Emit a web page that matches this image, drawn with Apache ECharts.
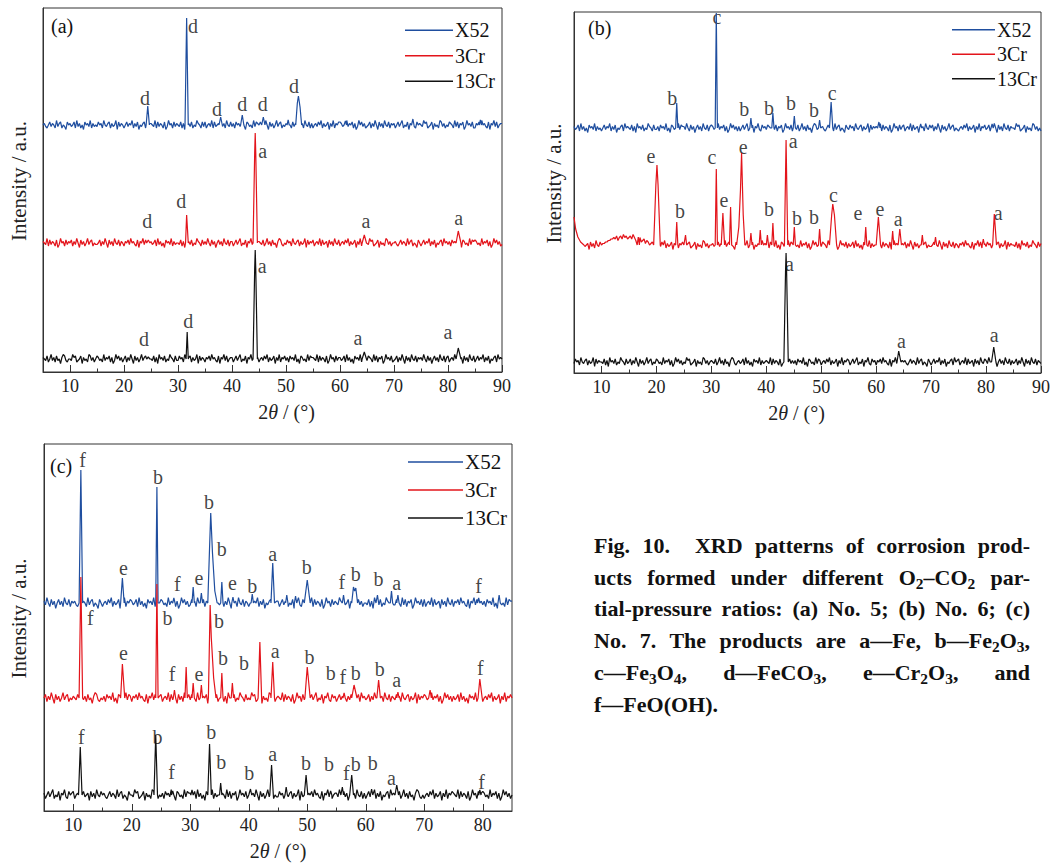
<!DOCTYPE html>
<html>
<head>
<meta charset="utf-8">
<script src="https://cdn.jsdelivr.net/npm/echarts@6/dist/echarts.min.js"></script>
<style>
body { margin: 0; background: #fff; }
#chart { position: absolute; left: 0; top: 0; width: 1055px; height: 865px; }
#caption { position: absolute; left: 594px; top: 530px; width: 436px;
  font: bold 22px/31.7px "Liberation Serif", "Times New Roman", serif; color: #111; }
#caption div { text-align: justify; text-align-last: justify; }
#caption div.last { text-align-last: left; }
#caption sub { font-size: 70%; line-height: 0; vertical-align: -0.25em; }
</style>
</head>
<body>
<div id="chart"></div>
<div id="caption">
  <div>Fig. 10. &nbsp;XRD patterns of corrosion prod-</div>
  <div>ucts formed under different O<sub>2</sub>–CO<sub>2</sub> par-</div>
  <div>tial-pressure ratios: (a) No. 5; (b) No. 6; (c)</div>
  <div>No. 7. The products are a—Fe, b—Fe<sub>2</sub>O<sub>3</sub>,</div>
  <div>c—Fe<sub>3</sub>O<sub>4</sub>, d—FeCO<sub>3</sub>, e—Cr<sub>2</sub>O<sub>3</sub>, and</div>
  <div class="last">f—FeO(OH).</div>
</div>
<script>
// series names and tick labels
var seriesNames = ['X52', '3Cr', '13Cr'];
var seriesColors = ['#1f4e9f', '#e3141b', '#111111'];
var majorTicksAB = [10, 20, 30, 40, 50, 60, 70, 80, 90];
var minorTicksAB = [15, 25, 35, 45, 55, 65, 75, 85];
var majorTicksC = [10, 20, 30, 40, 50, 60, 70, 80];
var minorTicksC = [15, 25, 35, 45, 55, 65, 75];
var noiseStep = 0.25; // 2theta step of the baseline strings

// baseline noise, one char per 0.25 deg starting at 5 deg (base 36, 4 = baseline)
var noiseA_X52 = "45324635427356243164 53462735241645372534 36452743562534716354 24635472536143562745 54372635426137452635 43625174536243754263 62453726345163527436 35264537241653427365 46253741635247356243 53742635146352743625 24536472534615372546 65342735462513746352 34625374163527436254 52463572436154732645 43756234615342763524 36542736254613745362 25463745326154736245 54362473526341576324";
var noiseA_3Cr = "54372635426137452635 46253741635247356243 34625374163527436254 25463745326154736245 53462735241645372534 43625174536243754263 53742635146352743625 52463572436154732645 54362473526341576324 36452743562534716354 62453726345163527436 24536472534615372546 43756234615342763524 45324635427356243164 24635472536143562745 35264537241653427365 65342735462513746352 36542736254613745362";
var noiseA_13Cr = "54362473526341576324 43756234615342763524 65342735462513746352 46253741635247356243 43625174536243754263 36452743562534716354 25463745326154736245 52463572436154732645 24536472534615372546 35264537241653427365 54372635426137452635 53462735241645372534 36542736254613745362 34625374163527436254 53742635146352743625 62453726345163527436 24635472536143562745 45324635427356243164";
var noiseB_X52 = "53462735241645372534 24635472536143562745 43625174536243754263 35264537241653427365 53742635146352743625 65342735462513746352 52463572436154732645 36542736254613745362 54362473526341576324 45324635427356243164 36452743562534716354 54372635426137452635 62453726345163527436 46253741635247356243 24536472534615372546 34625374163527436254 43756234615342763524 25463745326154736245";
var noiseB_3Cr = "62453726345163527436 45566778898a79a8b9a8 9a8b97a8967857645645 24536472534615372546 43756234615342763524 45324635427356243164 24635472536143562745 35264537241653427365 65342735462513746352 36542736254613745362 53462735241645372534 54372635426137452635 46253741635247356243 34625374163527436254 25463745326154736245 36452743562534716354 43625174536243754263 53742635146352743625";
var noiseB_13Cr = "36452743562534716354 43625174536243754263 46253741635247356243 65342735462513746352 43756234615342763524 54362473526341576324 53462735241645372534 54372635426137452635 35264537241653427365 24536472534615372546 52463572436154732645 25463745326154736245 45324635427356243164 24635472536143562745 62453726345163527436 53742635146352743625 34625374163527436254 36542736254613745362";
var noiseC_X52 = "53742635146352743625 45324635427356243164 24536472534615372546 53462735241645372534 65342735462513746352 36452743562534716354 34625374163527436254 24635472536143562745 52463572436154732645 54372635426137452635 43756234615342763524 43625174536243754263 36542736254613745362 62453726345163527436 25463745326154736245 35264537241653427365 54362473526341576324 46253741635247356243";
var noiseC_3Cr = "46253741635247356243 54362473526341576324 35264537241653427365 25463745326154736245 62453726345163527436 36542736254613745362 43625174536243754263 43756234615342763524 54372635426137452635 52463572436154732645 24635472536143562745 34625374163527436254 36452743562534716354 65342735462513746352 53462735241645372534 24536472534615372546 45324635427356243164 53742635146352743625";
var noiseC_13Cr = "52463572436154732645 62453726345163527436 45324635427356243164 43756234615342763524 35264537241653427365 53462735241645372534 36542736254613745362 46253741635247356243 36452743562534716354 25463745326154736245 53742635146352743625 24635472536143562745 54362473526341576324 24536472534615372546 54372635426137452635 65342735462513746352 43625174536243754263 34625374163527436254";

// peaks: flat [2theta, intensity, 2theta, intensity, ...] above the baseline
var peaksA_X52 = [
  [24.1,0, 24.4,19, 24.7,0], [31.3,0, 31.6,107, 31.9,0], [37.6,0, 37.9,8, 38.2,0],
  [41.6,0, 41.9,10, 42.2,0], [45.5,0, 45.8,8, 46.1,0], [50.2,0, 50.4,5, 50.6,0],
  [51.8,0, 52.1,22, 52.3,29, 52.6,18, 52.9,0], [60.8,0, 61.0,4, 61.2,0],
  [73.3,0, 73.5,6, 73.7,0], [85.8,0, 86.0,5, 86.2,0]
];
var peaksA_3Cr = [
  [24.2,0, 24.5,3, 24.8,0], [31.4,0, 31.6,28, 31.9,0], [43.9,0, 44.2,90, 44.3,110, 44.4,90, 44.7,0],
  [64.1,0, 64.5,8, 64.9,0], [81.5,0, 81.9,12, 82.4,0]
];
var peaksA_13Cr = [
  [24.2,0, 24.5,2, 24.8,0], [31.5,0, 31.7,27, 31.9,0], [43.9,0, 44.2,90, 44.3,109, 44.4,90, 44.7,0],
  [64.1,0, 64.5,7, 64.9,0], [81.5,0, 81.9,11, 82.4,0]
];
var peaksB_X52 = [
  [23.5,0, 23.7,25, 23.9,0], [30.7,0, 30.9,115, 31.1,0], [37.0,0, 37.2,10, 37.4,0],
  [41.0,0, 41.2,15, 41.4,0], [44.9,0, 45.1,12, 45.3,0], [49.5,0, 49.7,8, 49.9,0],
  [51.5,0, 51.8,26, 52.1,0], [60.3,0, 60.5,6, 60.7,0], [67.9,0, 68.1,4, 68.3,0],
  [80.9,0, 81.1,4, 81.3,0]
];
var peaksB_3Cr = [
  [5.0,28, 5.3,16, 5.7,8, 6.2,3, 6.8,0], [16.5,0, 16.7,8, 16.9,0],
  [19.6,0, 19.9,60, 20.1,80, 20.3,60, 20.7,0], [23.5,0, 23.7,23, 23.9,0],
  [25.1,0, 25.3,10, 25.5,0], [30.7,0, 30.9,76, 31.1,0], [31.8,0, 32.1,32, 32.4,0],
  [33.3,0, 33.5,38, 33.7,0], [34.6,0, 35.0,18, 35.3,55, 35.5,92, 35.8,30, 36.1,0],
  [37.0,0, 37.2,12, 37.4,0], [38.7,0, 38.9,15, 39.1,0], [40.0,0, 40.2,10, 40.4,0],
  [41.0,0, 41.2,22, 41.4,0], [43.3,0, 43.6,105, 43.9,0], [44.9,0, 45.1,18, 45.3,0],
  [49.5,0, 49.7,16, 49.9,0], [51.5,0, 51.9,30, 52.1,41, 52.4,30, 52.8,0],
  [57.9,0, 58.1,18, 58.3,0], [60.0,0, 60.4,28, 60.8,0], [62.8,0, 63.0,14, 63.2,0],
  [64.0,0, 64.3,16, 64.6,0], [68.2,0, 68.4,10, 68.6,0], [70.6,0, 70.8,8, 71.0,0],
  [79.3,0, 79.5,6, 79.7,0], [81.2,0, 81.5,31, 81.9,0]
];
var peaksB_13Cr = [
  [43.2,0, 43.5,90, 43.6,109, 43.7,90, 44.0,0], [63.8,0, 64.1,11, 64.5,0], [81.0,0, 81.4,15, 81.8,0]
];
var peaksC_X52 = [
  [11.0,0, 11.3,133, 11.6,0], [18.1,0, 18.4,25, 18.7,0], [24.1,0, 24.3,116, 24.5,0],
  [27.0,0, 27.2,5, 27.4,0], [30.3,0, 30.5,16, 30.7,0], [31.7,0, 31.9,10, 32.1,0],
  [33.0,0, 33.3,55, 33.5,90, 33.8,50, 34.2,12, 34.6,0], [35.2,0, 35.4,21, 35.6,0],
  [37.1,0, 37.3,6, 37.5,0], [40.4,0, 40.6,9, 40.8,0], [43.8,0, 44.1,40, 44.4,0],
  [46.3,0, 46.5,8, 46.7,0], [47.8,0, 48.0,7, 48.2,0], [49.6,0, 50.0,23, 50.5,0],
  [56.0,0, 56.2,8, 56.4,0], [57.6,0, 57.9,16, 58.1,12, 58.3,15, 58.6,0],
  [61.8,0, 62.0,8, 62.2,0], [64.2,0, 64.4,12, 64.6,0], [65.3,0, 65.5,8, 65.7,0],
  [79.1,0, 79.3,5, 79.5,0], [82.6,0, 82.8,8, 83.0,0]
];
var peaksC_3Cr = [
  [11.0,0, 11.3,121, 11.6,0], [18.1,0, 18.4,34, 18.8,0], [24.1,0, 24.3,114, 24.5,0],
  [27.1,0, 27.3,8, 27.5,0], [29.1,0, 29.3,31, 29.5,0], [30.3,0, 30.5,15, 30.7,0],
  [31.7,0, 31.9,13, 32.1,0], [33.1,0, 33.4,93, 33.6,60, 34.0,20, 34.4,0],
  [35.2,0, 35.4,25, 35.6,0], [37.0,0, 37.2,15, 37.4,0], [41.6,0, 41.9,56, 42.2,0],
  [43.8,0, 44.1,36, 44.4,0], [49.6,0, 50.0,31, 50.5,0], [56.1,0, 56.3,5, 56.5,0],
  [57.6,0, 58.0,13, 58.5,0], [61.9,0, 62.2,18, 62.5,0], [65.3,0, 65.5,6, 65.7,0],
  [70.8,0, 71.0,8, 71.2,0], [79.2,0, 79.5,19, 79.9,0]
];
var peaksC_13Cr = [
  [10.9,0, 11.2,48, 11.5,0], [23.8,0, 24.1,60, 24.4,0], [26.8,0, 27.0,4, 27.2,0],
  [30.1,0, 30.3,5, 30.5,0], [33.0,0, 33.3,51, 33.6,0], [35.0,0, 35.2,12, 35.4,0],
  [40.1,0, 40.3,6, 40.5,0], [43.6,0, 43.9,30, 44.2,0], [46.2,0, 46.4,8, 46.6,0],
  [49.5,0, 49.8,20, 50.1,0], [53.8,0, 54.0,4, 54.2,0], [55.8,0, 56.0,8, 56.2,0],
  [57.3,0, 57.6,20, 57.9,0], [60.8,0, 61.0,6, 61.2,0], [65.0,0, 65.3,10, 65.6,0],
  [79.3,0, 79.5,5, 79.7,0]
];

// phase labels: [2theta, height above the series baseline, letter]
var labelsA_X52 = [[23.9,27,'d'], [32.8,99,'d'], [37.2,16,'d'], [41.9,21,'d'], [45.7,21,'d'], [51.5,39,'d']];
var labelsA_3Cr = [[24.3,22,'d'], [30.6,42,'d'], [45.7,92,'a'], [64.8,22,'a'], [82.0,25,'a']];
var labelsA_13Cr = [[23.7,20,'d'], [31.9,38,'d'], [45.6,93,'a'], [63.3,21,'a'], [80.0,27,'a']];
var labelsB_X52 = [[22.9,30,'b'], [31.0,111,'c'], [36.0,19,'b'], [40.5,20,'b'], [44.5,25,'b'], [48.7,18,'b'], [52.0,35,'c']];
var labelsB_3Cr = [[19.0,89,'e'], [24.3,34,'b'], [30.1,88,'c'], [32.3,45,'e'], [35.8,98,'e'], [40.5,36,'b'],
  [44.9,104,'a'], [45.6,27,'b'], [48.7,28,'b'], [52.2,50,'c'], [56.7,32,'e'], [60.7,36,'e'], [64.0,26,'a'], [82.2,32,'a']];
var labelsB_13Cr = [[44.2,98,'a'], [64.6,21,'a'], [81.5,27,'a']];
var labelsC_X52 = [[11.6,143,'f'], [18.6,35,'e'], [24.5,126,'b'], [27.8,19,'f'], [31.5,25,'e'], [33.2,101,'b'],
  [35.4,54,'b'], [37.2,20,'e'], [40.6,17,'b'], [44.1,49,'a'], [49.9,36,'b'], [55.9,21,'f'], [58.3,29,'b'],
  [62.2,24,'b'], [65.3,20,'a'], [79.3,17,'f']];
var labelsC_3Cr = [[12.9,80,'f'], [18.6,45,'e'], [26.1,80,'b'], [26.9,24,'f'], [31.5,24,'e'], [34.9,77,'b'],
  [35.6,40,'b'], [39.2,35,'b'], [44.5,47,'a'], [50.4,41,'b'], [54.0,25,'b'], [56.1,21,'f'], [58.3,25,'b'],
  [62.4,29,'b'], [65.3,18,'a'], [79.6,30,'f']];
var labelsC_13Cr = [[11.4,58,'f'], [24.4,58,'b'], [26.8,23,'f'], [33.6,63,'b'], [35.3,33,'b'], [40.1,22,'b'],
  [44.1,41,'a'], [49.8,32,'b'], [53.7,31,'b'], [56.7,22,'f'], [58.3,31,'b'], [61.2,32,'b'], [64.4,17,'a'], [79.8,13,'f']];

var serif = '"Liberation Serif", "Times New Roman", serif';

var panels = [
  { grid: { left: 43, top: 8, width: 459, height: 364 }, xMax: 90, yMax: 364, offsets: [247, 129, 13], amp: 1.5,
    major: majorTicksAB, minor: minorTicksAB, xNamePad: [0, 0, 0, 28], yNameGap: 14,
    noise: [noiseA_X52, noiseA_3Cr, noiseA_13Cr], peaks: [peaksA_X52, peaksA_3Cr, peaksA_13Cr],
    labels: [labelsA_X52, labelsA_3Cr, labelsA_13Cr],
    tag: '(a)', tagPos: [51, 16], legend: { left: 400, top: 12.5, w: 48, lh: 25.5, fs: 20 } },
  { grid: { left: 574, top: 12, width: 467, height: 361 }, xMax: 90, yMax: 361, offsets: [245, 128, 11], amp: 1.5,
    major: majorTicksAB, minor: minorTicksAB, xNamePad: [0, 22, 0, 0], yNameGap: 10,
    noise: [noiseB_X52, noiseB_3Cr, noiseB_13Cr], peaks: [peaksB_X52, peaksB_3Cr, peaksB_13Cr],
    labels: [labelsB_X52, labelsB_3Cr, labelsB_13Cr],
    tag: '(b)', tagPos: [588, 18], legend: { left: 947, top: 12.5, w: 43, lh: 24.5, fs: 20 } },
  { grid: { left: 44, top: 444, width: 468, height: 367 }, xMax: 85, yMax: 367, offsets: [208, 113, 16], amp: 1.8,
    major: majorTicksC, minor: minorTicksC, xNamePad: [0, 0, 0, 0], yNameGap: 15,
    noise: [noiseC_X52, noiseC_3Cr, noiseC_13Cr], peaks: [peaksC_X52, peaksC_3Cr, peaksC_13Cr],
    labels: [labelsC_X52, labelsC_3Cr, labelsC_13Cr],
    tag: '(c)', tagPos: [50, 456], legend: { left: 403, top: 443, w: 55, lh: 28, fs: 21 } }
];

function buildLine(noise, peaks, xMin, xMax, amp, offset) {
  var s = noise.replace(/\s/g, '');
  var pts = [];
  for (var i = 0; i < s.length; i++) {
    var x = xMin + i * noiseStep;
    if (x > xMax + 1e-9) break;
    var inside = peaks.some(function (p) {
      return x >= p[0] - 1e-9 && x <= p[p.length - 2] + 1e-9;
    });
    if (!inside) pts.push([x, offset + (parseInt(s[i], 36) - 4) * amp]);
  }
  peaks.forEach(function (p) {
    for (var j = 0; j < p.length; j += 2) pts.push([p[j], offset + p[j + 1]]);
  });
  pts.sort(function (a, b) { return a[0] - b[0]; });
  return pts;
}

var grids = [], xAxes = [], yAxes = [], series = [], legends = [], graphics = [];

panels.forEach(function (pn, gi) {
  grids.push(Object.assign({ show: true, borderColor: '#333', borderWidth: 1 }, pn.grid));

  xAxes.push({
    type: 'value', gridIndex: gi, position: 'bottom', min: 5, max: pn.xMax,
    axisLine: { show: true, lineStyle: { color: '#333', width: 1 } },
    axisTick: { show: true, inside: true, length: 7, customValues: pn.major, lineStyle: { color: '#333' } },
    axisLabel: { customValues: pn.major, fontSize: 18, fontFamily: serif, color: '#222', margin: 5 },
    splitLine: { show: false },
    name: '2{i|θ} / (°)', nameLocation: 'middle', nameGap: 30,
    nameTextStyle: { fontSize: 20, fontFamily: serif, color: '#222', padding: pn.xNamePad,
      rich: { i: { fontStyle: 'italic', fontSize: 20, fontFamily: serif, color: '#222' } } }
  });
  xAxes.push({
    type: 'value', gridIndex: gi, position: 'bottom', offset: 0, min: 5, max: pn.xMax,
    axisLine: { show: false },
    axisTick: { show: true, inside: true, length: 3.5, customValues: pn.minor, lineStyle: { color: '#333' } },
    axisLabel: { show: false }, splitLine: { show: false }
  });
  yAxes.push({
    type: 'value', gridIndex: gi, min: 0, max: pn.yMax,
    axisLine: { show: true, lineStyle: { color: '#333', width: 1 } },
    axisTick: { show: false }, axisLabel: { show: false }, splitLine: { show: false },
    name: 'Intensity / a.u.', nameLocation: 'middle', nameGap: pn.yNameGap, nameRotate: 90,
    nameTextStyle: { fontSize: 21, fontFamily: serif, color: '#222', padding: [0, 0, 0, 18] }
  });

  var labelData = [];
  seriesNames.forEach(function (nm, si) {
    series.push({
      name: nm, type: 'line', xAxisIndex: gi * 2, yAxisIndex: gi,
      data: buildLine(pn.noise[si], pn.peaks[si], 5, pn.xMax, pn.amp, pn.offsets[si]),
      showSymbol: false, symbol: 'none', color: seriesColors[si],
      lineStyle: { width: 1.2, color: seriesColors[si] }, animation: false, silent: true
    });
    pn.labels[si].forEach(function (l) {
      labelData.push([l[0], pn.offsets[si] + l[1], l[2]]);
    });
  });
  series.push({
    name: 'labels' + gi, type: 'scatter', xAxisIndex: gi * 2, yAxisIndex: gi,
    data: labelData, symbolSize: 0, silent: true, animation: false,
    label: { show: true, position: 'inside', formatter: function (p) { return p.value[2]; },
      fontSize: 20, fontFamily: serif, color: '#111' }
  });

  legends.push({
    orient: 'vertical', left: pn.legend.left, top: pn.legend.top, data: seriesNames,
    icon: 'rect', itemWidth: pn.legend.w, itemHeight: 1.5, itemGap: 0, selectedMode: false,
    textStyle: { fontSize: pn.legend.fs, fontFamily: serif, color: '#111', lineHeight: pn.legend.lh, padding: [0, 0, 0, -3] }
  });

  graphics.push({
    type: 'text', left: pn.tagPos[0], top: pn.tagPos[1],
    style: { text: pn.tag, fontSize: 20, fontFamily: serif, fill: '#111' }
  });
});

var chart = echarts.init(document.getElementById('chart'), null, { renderer: 'svg' });
chart.setOption({
  backgroundColor: '#fff',
  animation: false,
  grid: grids,
  xAxis: xAxes,
  yAxis: yAxes,
  legend: legends,
  graphic: graphics,
  series: series
});
</script>
</body>
</html>
